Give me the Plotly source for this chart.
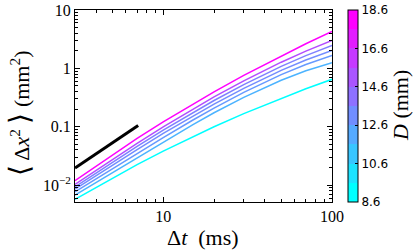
import plotly.graph_objects as go
import numpy as np

# Data
t = [3, 5, 7, 10, 15, 20, 30, 50, 70, 100]
D_values = [8.6, 11.6, 12.6, 13.1, 13.6, 15.6, 18.6]
msd_8_6 = [0.00570, 0.01322, 0.02236, 0.0381, 0.0677, 0.0999, 0.1679, 0.3086, 0.4477, 0.6486]
msd_11_6 = [0.00674, 0.01636, 0.02954, 0.0550, 0.1089, 0.1734, 0.3191, 0.6264, 0.9085, 1.251]
msd_12_6 = [0.00767, 0.01910, 0.03483, 0.0653, 0.1304, 0.2087, 0.3887, 0.7828, 1.166, 1.668]
msd_13_1 = [0.00855, 0.02203, 0.04062, 0.0766, 0.1529, 0.2444, 0.4551, 0.9228, 1.390, 2.033]
msd_13_6 = [0.00935, 0.02464, 0.04589, 0.0871, 0.1751, 0.2811, 0.5268, 1.083, 1.655, 2.473]
msd_15_6 = [0.01028, 0.02767, 0.0519, 0.0993, 0.2008, 0.3236, 0.611, 1.275, 1.976, 3.014]
msd_18_6 = [0.01186, 0.0331, 0.0629, 0.1208, 0.245, 0.396, 0.757, 1.634, 2.637, 4.285]
series = [msd_8_6, msd_11_6, msd_12_6, msd_13_1, msd_13_6, msd_15_6, msd_18_6]

ref_t = [3, 7.1]
ref_msd = [0.0196, 0.105]

x_ticks = [10, 100]
x_ticktext = ["10", "100"]
y_ticks = [0.01, 0.1, 1, 10]
y_ticktext = ["10<sup>−2</sup>", "0.1", "1", "10"]
cb_ticks = [8.6, 10.6, 12.6, 14.6, 16.6, 18.6]
cmin, cmax = 8.6, 18.6

x_minor = [m * 10 ** e for e in range(0, 2) for m in range(2, 10)]
y_minor = [m * 10.0 ** e for e in range(-3, 1) for m in range(2, 10)]


def cool(f):
    return "rgb(%d,%d,255)" % (round(255 * f), round(255 * (1 - f)))


# discrete (banded) cool colorscale with 10 bands
nb = 10
cs = []
for i in range(nb):
    c = cool(i / (nb - 1))
    cs.append([i / nb, c])
    cs.append([(i + 1) / nb, c])

fig = go.Figure()
for D, y in zip(D_values, series):
    fig.add_trace(go.Scatter(x=t, y=y, mode="lines",
                             line=dict(color=cool((D - cmin) / (cmax - cmin)), width=1.5),
                             showlegend=False, hoverinfo="skip"))

fig.add_trace(go.Scatter(x=ref_t, y=ref_msd, mode="lines",
                         line=dict(color="black", width=3), showlegend=False))

# colorbar carrier
fig.add_trace(go.Scatter(
    x=[None], y=[None], mode="markers",
    marker=dict(color=[cmin], cmin=cmin, cmax=cmax, colorscale=cs, showscale=True,
                colorbar=dict(x=1.062, xanchor="left", y=0.5, yanchor="middle",
                              len=1, lenmode="fraction", thickness=10,
                              outlinecolor="black", outlinewidth=1,
                              tickvals=cb_ticks, ticktext=["%.1f" % v for v in cb_ticks],
                              ticks="inside", ticklen=3, tickcolor="black",
                              tickfont=dict(family="DejaVu Sans", size=12, color="black"),
                              xpad=0, ypad=0)),
    showlegend=False, hoverinfo="skip"))

serif = "Liberation Serif"
common = dict(type="log", ticks="inside", ticklen=5, tickcolor="black",
              showline=True, linecolor="black", linewidth=1, mirror="allticks",
              showgrid=False, zeroline=False, automargin=False,
              tickfont=dict(family=serif, size=16, color="black"))
fig.update_xaxes(range=[np.log10(3), 2], tickvals=x_ticks, ticktext=x_ticktext,
                 minor=dict(tickvals=x_minor, ticks="inside", ticklen=3,
                            tickcolor="black", showgrid=False),
                 **common)
fig.update_yaxes(range=[-2.29, 1.0], tickvals=y_ticks, ticktext=y_ticktext,
                 minor=dict(tickvals=y_minor, ticks="inside", ticklen=3,
                            tickcolor="black", showgrid=False),
                 **common)

big = '<span style="font-size:28px">'
fig.add_annotation(text="Δ<i>t</i>  (ms)", xref="paper", yref="paper",
                   x=(203 - 75) / 257, y=-(237 - 202) / 192, xanchor="center", yanchor="middle",
                   showarrow=False, font=dict(family=serif, size=22, color="black"))
fig.add_annotation(text=big + "⟨</span> Δ<i>x</i><sup>2</sup> " + big + "⟩</span> (mm<sup>2</sup>)",
                   xref="paper", yref="paper",
                   x=-(75 - 20) / 257, y=(202 - 113) / 192, xanchor="center", yanchor="middle",
                   showarrow=False, textangle=-90,
                   font=dict(family=serif, size=22, color="black"))
fig.add_annotation(text="<i>D</i> (mm)", xref="paper", yref="paper",
                   x=(400 - 75) / 257, y=(202 - 106) / 192, xanchor="center", yanchor="middle",
                   showarrow=False, textangle=-90,
                   font=dict(family=serif, size=22, color="black"))

fig.update_layout(width=415, height=252, margin=dict(l=75, r=83, t=10, b=50),
                  plot_bgcolor="white", paper_bgcolor="white")
fig.write_html("out.html", config={"displayModeBar": False})

# remove default page margin so the figure sits at the window's top-left
with open("out.html", "r", encoding="utf-8") as fh:
    html = fh.read()
html = html.replace("<head>", "<head><style>html,body{margin:0;padding:0;overflow:hidden;}</style>", 1)
with open("out.html", "w", encoding="utf-8") as fh:
    fh.write(html)
